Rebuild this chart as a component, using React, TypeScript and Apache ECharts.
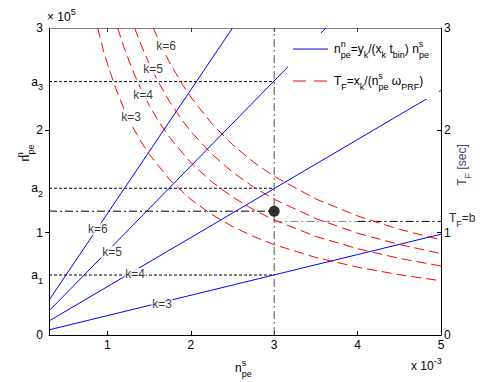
import React, { useEffect, useRef } from 'react';
import * as echarts from 'echarts';

// ---------- data ----------
const X_MIN = 0.3;
const X_MAX = 5;
const Y_MIN = 0;
const Y_MAX = 3;
const xTickValues = [1, 2, 3, 4];
const xLabelValues = [1, 2, 3, 4, 5];
const yLabelValues = [0, 1, 2, 3];

// a_k levels (dotted lines up to x = 3)
const aLevels = [0.586, 1.434, 2.476];
const aSubs = ['1', '2', '3'];
const xOperating = 3;
const yOperating = 1.21;
const tfB = 1.11;
const tfBGrayEnd = 4;

// blue lines n_pe^n = y_k/(x_k t_bin) n_pe^s
const blueNames = ['k=3', 'k=4', 'k=5', 'k=6'];
const blueStartX = [0.3, 0.3, 0.3, 0.3];
const blueStartY = [0.05, 0.137, 0.235, 0.34];
const blueEndX = [5, 5, 3.62, 2.5];
const blueEndY = [0.985, 2.39, 3, 3];
const blueLabelX = [1.655, 1.331, 1.055, 0.887];
const blueLabelY = [0.303, 0.596, 0.811, 1.036];

// red dashed curves T_F = x_k/(n_pe^s w_PRF)
const redX3 = [0.883, 0.95, 1.0, 1.1, 1.2, 1.3, 1.4, 1.5, 1.75, 2, 2.25, 2.5, 2.75, 3, 3.5, 4, 4.5, 5];
const redY3 = [3, 2.789, 2.65, 2.409, 2.208, 2.038, 1.893, 1.767, 1.514, 1.325, 1.178, 1.06, 0.964, 0.883, 0.757, 0.663, 0.589, 0.53];
const redX4 = [1.123, 1.2, 1.3, 1.4, 1.5, 1.6, 1.75, 2, 2.25, 2.5, 2.75, 3, 3.5, 4, 4.5, 5];
const redY4 = [3, 2.808, 2.592, 2.407, 2.247, 2.106, 1.926, 1.685, 1.498, 1.348, 1.225, 1.123, 0.963, 0.843, 0.749, 0.674];
const redX5 = [1.327, 1.4, 1.5, 1.6, 1.75, 1.9, 2, 2.25, 2.5, 2.75, 3, 3.5, 4, 4.5, 5];
const redY5 = [3, 2.843, 2.653, 2.488, 2.274, 2.095, 1.99, 1.769, 1.592, 1.447, 1.327, 1.137, 0.995, 0.884, 0.796];
const redX6 = [1.55, 1.65, 1.75, 1.9, 2, 2.25, 2.5, 2.75, 3, 3.5, 4, 4.5, 5];
const redY6 = [3, 2.818, 2.657, 2.447, 2.325, 2.067, 1.86, 1.691, 1.55, 1.329, 1.163, 1.033, 0.93];
const redCurvesX = [redX3, redX4, redX5, redX6];
const redCurvesY = [redY3, redY4, redY5, redY6];
const redNames = ['k=3', 'k=4', 'k=5', 'k=6'];
const redLabelX = [1.283, 1.427, 1.547, 1.703];
const redLabelY = [2.13, 2.345, 2.599, 2.824];

// ---------- styles ----------
const FONT = 'Liberation Sans, Arial, Helvetica, sans-serif';
const PURPLE = '#4d3b78';
const BLUE = '#0000ff';
const RED = '#ff0000';

const richFor = (color: string) => ({
  b: { fontSize: 12, lineHeight: 20, color, fill: color, fontFamily: FONT },
  sb: { fontSize: 9, lineHeight: 10, verticalAlign: 'bottom', color, fill: color, fontFamily: FONT },
  sp: { fontSize: 9, lineHeight: 10, verticalAlign: 'top', color, fill: color, fontFamily: FONT },
  sp0: { fontSize: 9, lineHeight: 10, verticalAlign: 'top', width: 0.1, align: 'left', color, fill: color, fontFamily: FONT },
});

const blueLegendText =
  '{b|n}{sp0|n}{sb|pe}{b|=y}{sb|k}{b|/(x}{sb|k}{b| t}{sb|bin}{b|) n}{sp0|s}{sb|pe}';
const redLegendText = '{b|T}{sb|F}{b|=x}{sb|k}{b|/(n}{sp0|s}{sb|pe}{b| \u03c9}{sb|PRF}{b|)}';

export default function App() {
  const ref = useRef<HTMLDivElement>(null);

  useEffect(() => {
    if (!ref.current) return;
    const chart = echarts.init(ref.current, null, { renderer: 'svg' });

    const series: any[] = [];

    blueNames.forEach((_, i) => {
      series.push({
        type: 'line',
        name: 'blue',
        data: [
          [blueStartX[i], blueStartY[i]],
          [blueEndX[i], blueEndY[i]],
        ],
        symbol: 'none',
        lineStyle: { color: BLUE, width: 1 },
        silent: true,
        z: 3,
      });
    });

    redNames.forEach((_, i) => {
      series.push({
        type: 'line',
        name: 'red',
        data: redCurvesX[i].map((x, j) => [x, redCurvesY[i][j]]),
        symbol: 'none',
        lineStyle: { color: RED, width: 1, type: [10, 5] },
        silent: true,
        z: 3,
      });
    });

    aLevels.forEach((a) => {
      series.push({
        type: 'line',
        name: 'aux',
        data: [
          [X_MIN, a],
          [xOperating, a],
        ],
        symbol: 'none',
        lineStyle: { color: '#000', width: 1, type: [3, 2] },
        silent: true,
        z: 2,
      });
    });

    const dashDot = [8, 3, 2, 3];
    series.push({
      type: 'line',
      name: 'aux',
      data: [
        [xOperating, Y_MIN],
        [xOperating, Y_MAX],
      ],
      symbol: 'none',
      lineStyle: { color: '#555', width: 1, type: dashDot },
      silent: true,
      z: 2,
    });
    series.push({
      type: 'line',
      name: 'aux',
      data: [
        [X_MIN, yOperating],
        [xOperating, yOperating],
      ],
      symbol: 'none',
      lineStyle: { color: '#000', width: 1, type: dashDot },
      silent: true,
      z: 2,
    });
    series.push({
      type: 'line',
      name: 'aux',
      data: [
        [xOperating, tfB],
        [tfBGrayEnd, tfB],
      ],
      symbol: 'none',
      lineStyle: { color: '#888', width: 1, type: dashDot },
      silent: true,
      z: 2,
    });
    series.push({
      type: 'line',
      name: 'aux',
      data: [
        [tfBGrayEnd, tfB],
        [X_MAX, tfB],
      ],
      symbol: 'none',
      lineStyle: { color: '#000', width: 1, type: dashDot },
      silent: true,
      z: 2,
    });
    series.push({
      type: 'scatter',
      name: 'aux',
      data: [[xOperating, yOperating]],
      symbol: 'circle',
      symbolSize: 11,
      itemStyle: { color: '#000' },
      silent: true,
      z: 6,
    });
    const labelData = [
      ...blueNames.map((n, i) => [blueLabelX[i], blueLabelY[i], n]),
      ...redNames.map((n, i) => [redLabelX[i], redLabelY[i], n]),
    ];
    series.push({
      type: 'scatter',
      name: 'aux',
      data: labelData,
      symbolSize: 1,
      itemStyle: { color: 'rgba(0,0,0,0)' },
      label: {
        show: true,
        position: 'inside',
        formatter: (p: any) => p.data[2],
        color: '#000',
        fontSize: 12,
        fontFamily: FONT,
        backgroundColor: '#fff',
        padding: [0, 1],
      },
      silent: true,
      z: 10,
    });

    const axisLabelBase = { color: '#000', fontSize: 12, fontFamily: FONT };

    const option: any = {
      animation: false,
      backgroundColor: '#fff',
      legend: { show: false },
      grid: { left: 49, top: 28, right: 44, bottom: 47 },
      xAxis: [
        {
          type: 'value',
          position: 'bottom',
          min: X_MIN,
          max: X_MAX,
          axisLine: { onZero: false, lineStyle: { color: '#000', width: 1 } },
          axisTick: { show: true, inside: true, length: 4, customValues: xTickValues, lineStyle: { color: '#000' } },
          axisLabel: { ...axisLabelBase, customValues: xLabelValues, margin: 4 },
          splitLine: { show: false },
        },
        {
          type: 'value',
          position: 'top',
          min: X_MIN,
          max: X_MAX,
          axisLine: { onZero: false, lineStyle: { color: '#808080', width: 1 } },
          axisTick: { show: true, inside: true, length: 4, customValues: xTickValues, lineStyle: { color: '#333' } },
          axisLabel: { show: false },
          splitLine: { show: false },
        },
      ],
      yAxis: [
        {
          type: 'value',
          position: 'left',
          min: Y_MIN,
          max: Y_MAX,
          axisLine: { onZero: false, lineStyle: { color: '#000', width: 1 } },
          axisTick: { show: true, inside: false, length: 4, customValues: [1, 2], lineStyle: { color: '#000' } },
          axisLabel: { ...axisLabelBase, customValues: yLabelValues, margin: 6 },
          splitLine: { show: false },
        },
        {
          type: 'value',
          position: 'right',
          min: Y_MIN,
          max: Y_MAX,
          axisLine: { onZero: false, lineStyle: { color: '#000', width: 1 } },
          axisTick: { show: true, inside: true, length: 4, customValues: [1, 2], lineStyle: { color: '#000' } },
          axisLabel: { ...axisLabelBase, customValues: yLabelValues, margin: 3 },
          splitLine: { show: false },
        },
        {
          type: 'value',
          position: 'left',
          min: Y_MIN,
          max: Y_MAX,
          axisLine: { show: false, onZero: false },
          axisTick: { show: false },
          splitLine: { show: false },
          axisLabel: {
            ...axisLabelBase,
            customValues: aLevels,
            margin: 6,
            formatter: (v: number) => {
              let idx = 0;
              aLevels.forEach((a, i) => {
                if (Math.abs(a - v) < 1e-6) idx = i;
              });
              return `{b|a}{sb|${aSubs[idx]}}`;
            },
            rich: richFor('#000'),
          },
        },
      ],
      graphic: [
        // legend box
        {
          type: 'rect',
          shape: { x: 288, y: 33, width: 151, height: 66 },
          style: { fill: '#fff', stroke: 'none' },
          z: 20,
        },
        {
          type: 'line',
          shape: { x1: 293, y1: 49, x2: 328, y2: 49 },
          style: { stroke: BLUE, lineWidth: 1 },
          z: 21,
        },
        {
          type: 'text',
          x: 334,
          y: 49,
          style: { text: blueLegendText, rich: richFor('#000'), align: 'left', verticalAlign: 'middle' },
          z: 21,
        },
        {
          type: 'line',
          shape: { x1: 293, y1: 81, x2: 328, y2: 81 },
          style: { stroke: RED, lineWidth: 1, lineDash: [13, 8] },
          z: 21,
        },
        {
          type: 'text',
          x: 334,
          y: 81,
          style: { text: redLegendText, rich: richFor('#000'), align: 'left', verticalAlign: 'middle' },
          z: 21,
        },
        // exponents and axis titles
        {
          type: 'text',
          x: 47,
          y: 17,
          style: { text: '{b|\u00d7 10}{sp|5}', rich: richFor('#000'), align: 'left', verticalAlign: 'middle' },
          z: 30,
        },
        {
          type: 'text',
          x: 411,
          y: 366,
          style: { text: '{b|x 10}{sp|-3}', rich: richFor('#000'), align: 'left', verticalAlign: 'middle' },
          z: 30,
        },
        {
          type: 'text',
          x: 235,
          y: 368,
          style: { text: '{b|n}{sp0|s}{sb|pe}', rich: richFor('#000'), align: 'left', verticalAlign: 'middle' },
          z: 30,
        },
        {
          type: 'text',
          x: 25,
          y: 153,
          rotation: Math.PI / 2,
          style: { text: '{b|n}{sp0|n}{sb|pe}', rich: richFor('#000'), align: 'center', verticalAlign: 'middle' },
          z: 30,
        },
        {
          type: 'text',
          x: 462,
          y: 165,
          rotation: Math.PI / 2,
          style: { text: '{b|T}{sb|F}{b| [sec]}', rich: richFor(PURPLE), align: 'center', verticalAlign: 'middle' },
          z: 30,
        },
        {
          type: 'text',
          x: 449,
          y: 218,
          style: { text: '{b|T}{sb|F}{b|=b}', rich: richFor('#2e2a45'), align: 'left', verticalAlign: 'middle' },
          z: 30,
        },
      ],
      series,
    };

    chart.setOption(option);
    return () => chart.dispose();
  }, []);

  return (
    <div
      ref={ref}
      style={{ position: 'fixed', left: 0, top: 0, width: 485, height: 382, background: '#fff' }}
    />
  );
}
